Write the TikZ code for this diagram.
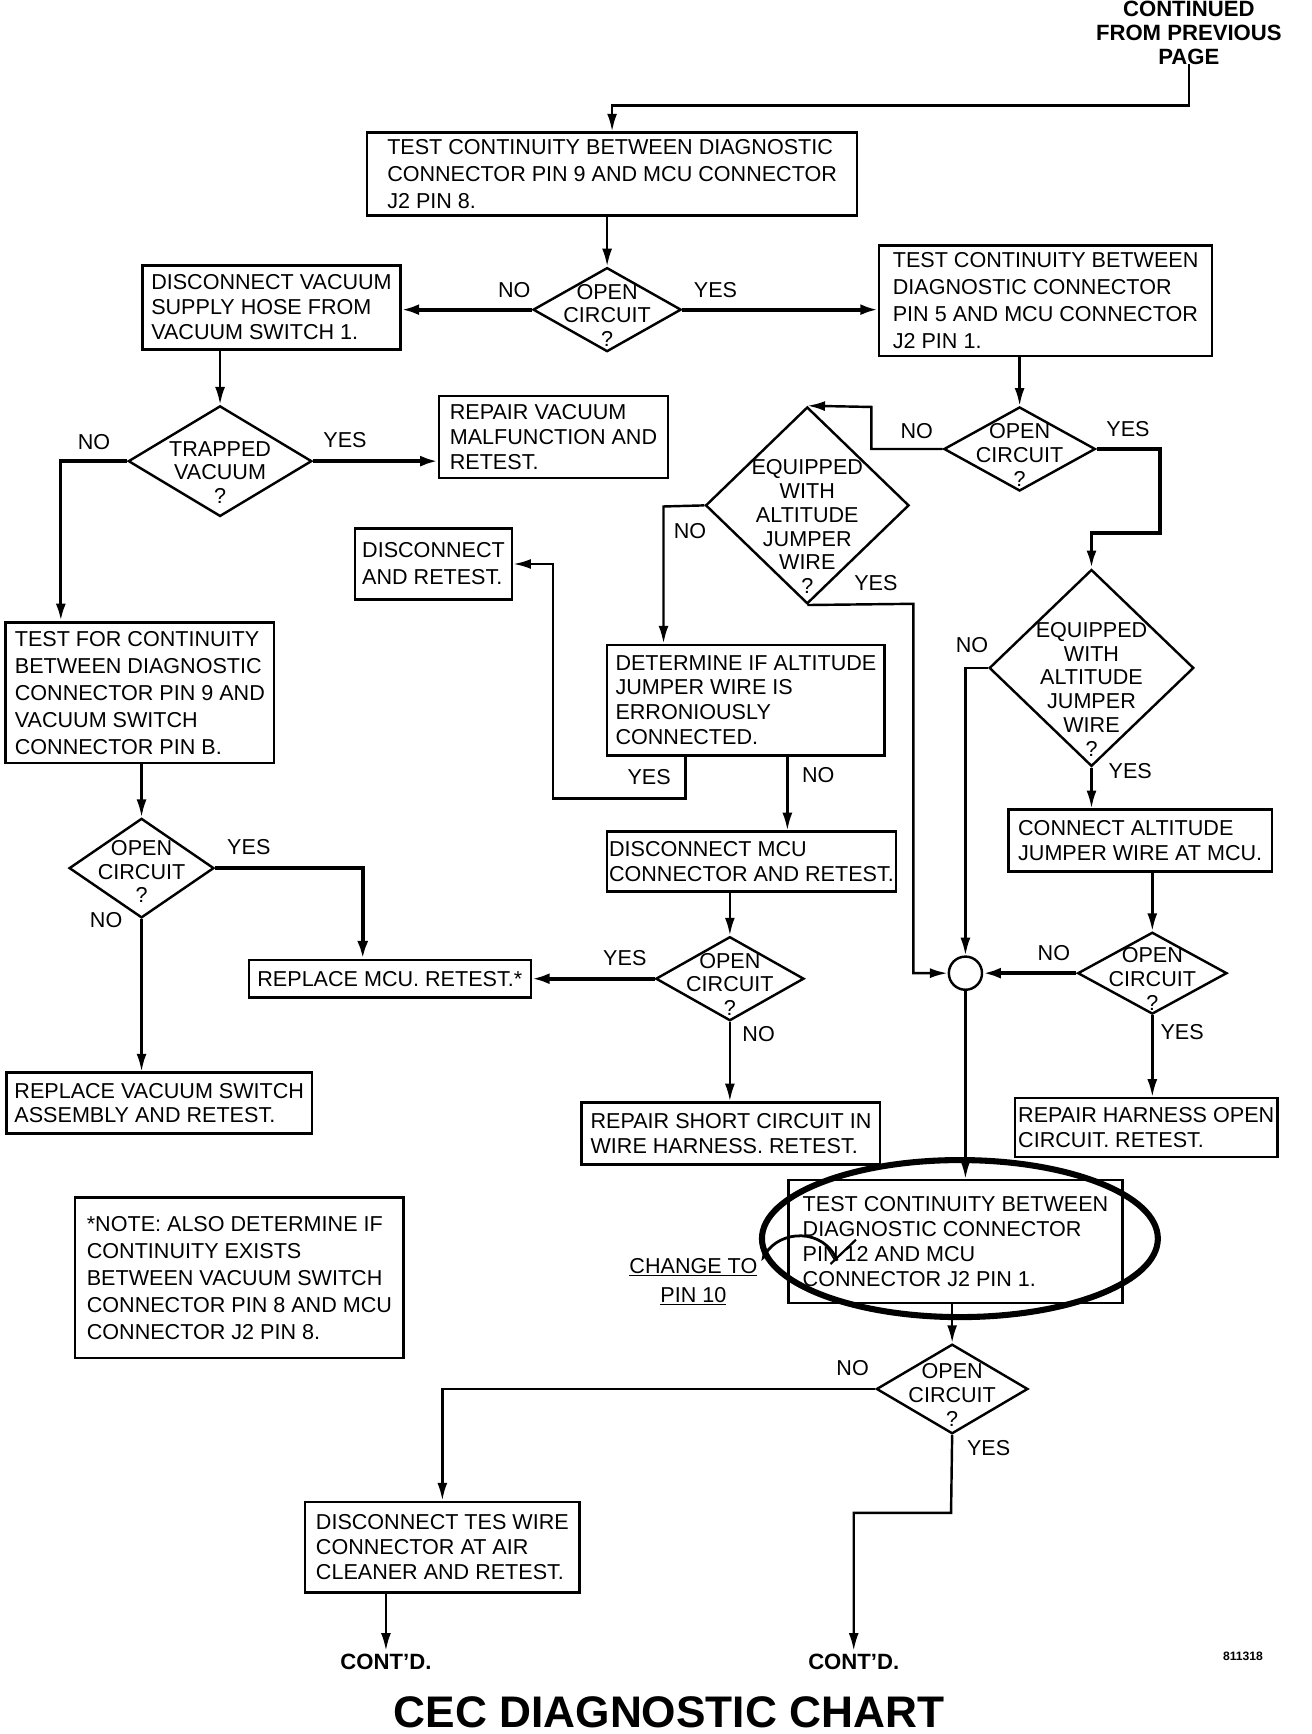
\documentclass[tikz,border=0pt]{standalone}
\usepackage{fontspec}
\setmainfont{Liberation Sans}
\usetikzlibrary{shapes.geometric,arrows.meta}
\tikzstyle{box}=[draw=black, line width=2.2pt, shape=rectangle, align=left, inner sep=0pt, font=\fontsize{19.5}{22.5}\selectfont]
\tikzstyle{wide box}=[style=box, font=\fontsize{19.5}{24.3}\selectfont]
\tikzstyle{decision}=[draw=black, line width=2.2pt, shape=diamond, inner sep=0pt, font=\fontsize{19.5}{21.5}\selectfont]
\tikzstyle{junction}=[draw=black, line width=2.2pt, shape=circle, minimum size=30pt, inner sep=0pt]
\tikzstyle{answer}=[inner sep=0pt, font=\fontsize{19.5}{22}\selectfont]
\tikzstyle{heading}=[inner sep=0pt, align=center, font=\bfseries\fontsize{20}{21.5}\selectfont]
\tikzstyle{chart title}=[inner sep=0pt, font=\bfseries\fontsize{40}{44}\selectfont]
\tikzstyle{flow edge}=[-{Latex[length=16pt,width=9pt]}, draw=black, line width=2.2pt]
\tikzstyle{heavy edge}=[-{Latex[length=16pt,width=10pt]}, draw=black, line width=3.6pt]
\tikzstyle{pen}=[draw=black, line width=5.5pt]
% text of a diamond, centred on the node, optional shift down
\newcommand{\dq}[2][0pt]{\makebox[0pt]{\raisebox{\dimexpr-0.25em-5pt-#1\relax}[0pt][0pt]{\begin{tabular}{@{}c@{}}#2\end{tabular}}}}
\pgfdeclarelayer{nodelayer}
\pgfdeclarelayer{edgelayer}
\pgfsetlayers{nodelayer,edgelayer,main}
\begin{document}
\begin{tikzpicture}[x=1pt, y=-1pt]
	\useasboundingbox (0, 0) rectangle (1186.3, 1568);
	\begin{pgfonlayer}{nodelayer}
		\node [style=heading] (0) at (1075, 29.5) {CONTINUED\\FROM PREVIOUS\\PAGE};
		\node [style=wide box, minimum width=443pt, minimum height=75pt] (1) at (553.5, 157.5) {TEST CONTINUITY BETWEEN DIAGNOSTIC\\CONNECTOR PIN 9 AND MCU CONNECTOR\\J2 PIN 8.};
		\node [style=decision, minimum width=134pt, minimum height=76pt] (2) at (549, 280) {\dq[3pt]{OPEN\\CIRCUIT\\?}};
		\node [style=box, minimum width=233pt, minimum height=76pt] (3) at (245.5, 278) {DISCONNECT VACUUM\\SUPPLY HOSE FROM\\VACUUM SWITCH 1.};
		\node [style=wide box, minimum width=301pt, minimum height=100pt] (4) at (945.5, 272) {TEST CONTINUITY BETWEEN\\DIAGNOSTIC CONNECTOR\\PIN 5 AND MCU CONNECTOR\\J2 PIN 1.};
		\node [style=decision, minimum width=166pt, minimum height=100pt] (5) at (199, 417) {\dq[8pt]{TRAPPED\\VACUUM\\?}};
		\node [style=box, minimum width=207pt, minimum height=74pt] (6) at (500.5, 395) {REPAIR VACUUM\\MALFUNCTION AND\\RETEST.};
		\node [style=wide box, minimum width=243pt, minimum height=127pt] (7) at (126.5, 626.5) {TEST FOR CONTINUITY\\BETWEEN DIAGNOSTIC\\CONNECTOR PIN 9 AND\\VACUUM SWITCH\\CONNECTOR PIN B.};
		\node [style=decision, minimum width=131pt, minimum height=90pt] (8) at (128, 785) {\dq[1pt]{OPEN\\CIRCUIT\\?}};
		\node [style=box, minimum width=255pt, minimum height=34pt] (9) at (352.5, 885) {REPLACE MCU. RETEST.*};
		\node [style=box, minimum width=276pt, minimum height=55pt] (10) at (144, 997.5) {REPLACE VACUUM SWITCH\\ASSEMBLY AND RETEST.};
		\node [style=wide box, minimum width=297pt, minimum height=145pt] (11) at (216.5, 1155.5) {*NOTE: ALSO DETERMINE IF\\CONTINUITY EXISTS\\BETWEEN VACUUM SWITCH\\CONNECTOR PIN 8 AND MCU\\CONNECTOR J2 PIN 8.};
		\node [style=decision, minimum width=137pt, minimum height=76pt] (12) at (922, 406) {\dq[3pt]{OPEN\\CIRCUIT\\?}};
		\node [style=decision, minimum width=184pt, minimum height=178pt] (13) at (730, 457) {\dq[17pt]{EQUIPPED\\WITH\\ALTITUDE\\JUMPER\\WIRE\\?}};
		\node [style=box, minimum width=251pt, minimum height=100pt] (14) at (674.5, 633) {DETERMINE IF ALTITUDE\\JUMPER WIRE IS\\ERRONIOUSLY\\CONNECTED.};
		\node [style=wide box, minimum width=142pt, minimum height=64pt] (15) at (392, 510) {DISCONNECT\\AND RETEST.};
		\node [style=box, minimum width=261pt, minimum height=54pt] (16) at (679.5, 779) {DISCONNECT MCU\\CONNECTOR AND RETEST.};
		\node [style=decision, minimum width=134pt, minimum height=76pt] (17) at (660, 885) {\dq[3pt]{OPEN\\CIRCUIT\\?}};
		\node [style=box, minimum width=270pt, minimum height=56pt] (18) at (661, 1025) {REPAIR SHORT CIRCUIT IN\\WIRE HARNESS. RETEST.};
		\node [style=decision, minimum width=185pt, minimum height=178pt] (19) at (987, 604) {\dq[17pt]{EQUIPPED\\WITH\\ALTITUDE\\JUMPER\\WIRE\\?}};
		\node [style=box, minimum width=238pt, minimum height=56pt] (20) at (1031, 760) {CONNECT ALTITUDE\\JUMPER WIRE AT MCU.};
		\node [style=decision, minimum width=135pt, minimum height=74pt] (21) at (1042, 880) {\dq[3pt]{OPEN\\CIRCUIT\\?}};
		\node [style=box, minimum width=237pt, minimum height=53pt] (22) at (1036.5, 1019.5) {REPAIR HARNESS OPEN\\CIRCUIT. RETEST.};
		\node [style=junction] (23) at (873, 880) {};
		\node [style=box, minimum width=302pt, minimum height=111pt] (24) at (864, 1122.5) {TEST CONTINUITY BETWEEN\\DIAGNOSTIC CONNECTOR\\PIN 12 AND MCU\\CONNECTOR J2 PIN 1.};
		\node [style=decision, minimum width=137pt, minimum height=81pt] (25) at (861, 1256) {\dq[3pt]{OPEN\\CIRCUIT\\?}};
		\node [style=box, minimum width=248pt, minimum height=82pt] (26) at (400, 1399) {DISCONNECT TES WIRE\\CONNECTOR AT AIR\\CLEANER AND RETEST.};
		\node [style=heading, inner sep=3pt] (27) at (349, 1503) {CONT'D.};
		\node [style=heading, inner sep=3pt] (28) at (772, 1503) {CONT'D.};
		\node [inner sep=0pt, font=\bfseries\fontsize{11}{12}\selectfont] (29) at (1124, 1498) {811318};
		\node [style=chart title] (30) at (605, 1548) {CEC DIAGNOSTIC CHART};
		\node [style=heading, font=\fontsize{19.5}{26}\selectfont] (31) at (627, 1159) {\underline{CHANGE TO}\\\underline{PIN 10}};
		\node [style=answer] (32) at (465, 262) {NO};
		\node [style=answer] (33) at (647, 262) {YES};
		\node [style=answer] (34) at (312, 398) {YES};
		\node [style=answer] (35) at (85, 400) {NO};
		\node [style=answer] (36) at (225, 766) {YES};
		\node [style=answer] (37) at (96, 832) {NO};
		\node [style=answer] (38) at (829, 390) {NO};
		\node [style=answer] (39) at (1020, 388) {YES};
		\node [style=answer] (40) at (624, 480) {NO};
		\node [style=answer] (41) at (792, 527) {YES};
		\node [style=answer] (42) at (587, 703) {YES};
		\node [style=answer] (43) at (740, 701) {NO};
		\node [style=answer] (44) at (565, 866) {YES};
		\node [style=answer] (45) at (686, 935) {NO};
		\node [style=answer] (46) at (879, 583) {NO};
		\node [style=answer] (47) at (1022, 697) {YES};
		\node [style=answer] (48) at (953, 862) {NO};
		\node [style=answer] (49) at (1069, 933) {YES};
		\node [style=answer] (50) at (771, 1237) {NO};
		\node [style=answer] (51) at (894, 1309) {YES};
		\coordinate (52) at (55, 417);
		\coordinate (53) at (328, 785);
		\coordinate (54) at (788, 368);
		\coordinate (55) at (1049, 482);
		\coordinate (56) at (600, 458);
		\coordinate (57) at (826, 546);
		\coordinate (58) at (620, 722);
		\coordinate (59) at (500, 722);
		\coordinate (60) at (712, 700);
		\coordinate (61) at (860, 1368);
	\end{pgfonlayer}
	\begin{pgfonlayer}{edgelayer}
		\draw [style=flow edge] (0.south) -- ++(0, 37) -| (1.north);
		\draw [style=flow edge] (1.south -| 2.north) -- (2.north);
		\draw [style=heavy edge] (2.west) -- (2.west -| 3.east);
		\draw [style=heavy edge] (2.east) -- (2.east -| 4.west);
		\draw [style=flow edge] (3.south -| 5.north) -- (5.north);
		\draw [style=heavy edge] (5.east) -- (5.east -| 6.west);
		\draw [style=flow edge, line width=3pt] (5.west) -- (52) -- (52 |- 7.north);
		\draw [style=flow edge] (7.south -| 8.north) -- (8.north);
		\draw [style=heavy edge] (8.east) -- (53) -- (53 |- 9.north);
		\draw [style=flow edge] (8.south) -- (8.south |- 10.north);
		\draw [style=flow edge] (4.south -| 12.north) -- (12.north);
		\draw [style=flow edge] (12.west) -| (54) -- (13.north);
		\draw [style=flow edge, line width=3pt] (12.east) -| (55) -| (19.north);
		\draw [style=flow edge] (13.west) -- (56) -- (56 |- 14.north);
		\draw [style=flow edge] (13.south) -- (57) |- (23.west);
		\draw [style=flow edge] (14.south -| 58) -- (58) -- (59) |- (15.east);
		\draw [style=flow edge] (14.south -| 60) -- (60 |- 16.north);
		\draw [style=flow edge] (16.south -| 17.north) -- (17.north);
		\draw [style=heavy edge] (17.west) -- (17.west -| 9.east);
		\draw [style=flow edge] (17.south) -- (17.south |- 18.north);
		\draw [style=flow edge] (19.west) -| (23.north);
		\draw [style=flow edge] (19.south) -- (19.south |- 20.north);
		\draw [style=flow edge] (20.south -| 21.north) -- (21.north);
		\draw [style=heavy edge] (21.west) -- (23.east);
		\draw [style=flow edge] (21.south) -- (21.south |- 22.north);
		\draw [style=flow edge] (23.south) -- (23.south |- 24.north);
		\draw [style=flow edge] (24.south -| 25.north) -- (25.north);
		\draw [style=flow edge] (25.west) -| (26.north);
		\draw [style=flow edge] (26.south -| 27.north) -- (27.north);
		\draw [style=flow edge] (25.south) -- (61) -| (28.north);
		% pen marks over the pin 12 box
		\draw [style=pen] (868, 1120) ellipse [x radius=179, y radius=71];
		\draw [line width=2pt] (751, 1143) -- (774, 1121);
		\draw [line width=2.5pt, -{Latex[length=9pt,width=7pt]}] (757, 1140) .. controls (745, 1110) and (705, 1112) .. (688, 1141);
	\end{pgfonlayer}
\end{tikzpicture}
\end{document}
